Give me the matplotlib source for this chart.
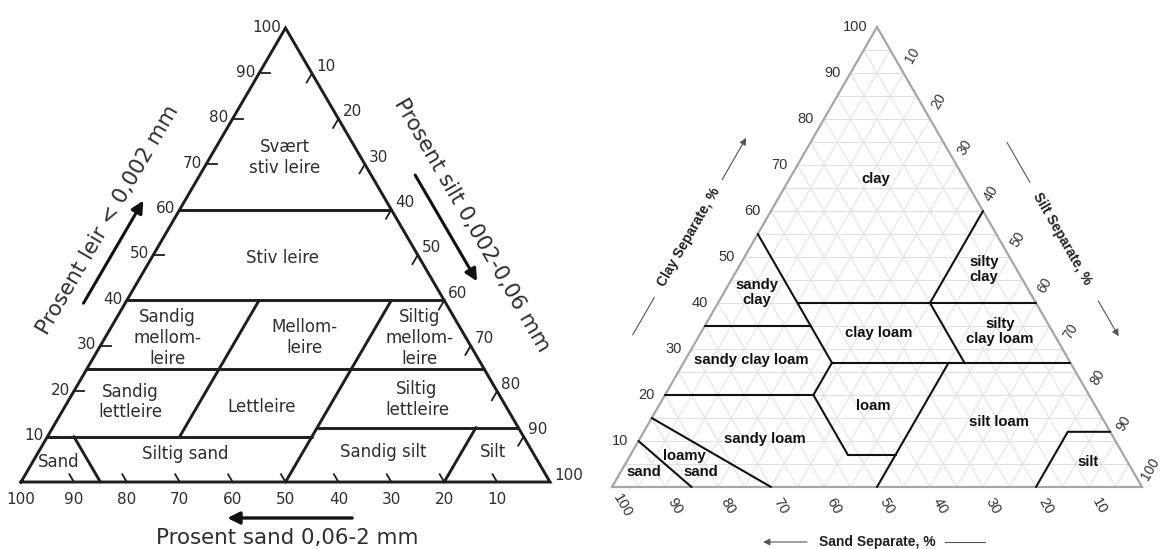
import matplotlib
matplotlib.use('Agg')
import matplotlib.pyplot as plt
from matplotlib.transforms import ScaledTranslation
import numpy as np

DPI = 100
TICKS = list(range(10, 101, 10))

# ---- left: Norwegian texture classes, boundary segments as (sand %, clay %)
no_lines = [
    [(40, 60), (0, 60)],
    [(60, 40), (0, 40)],
    [(75, 25), (0, 25)],
    [(90, 10), (40, 10)],
    [(38, 12), (0, 12)],
    [(65, 10), (35, 40)],   # silt 25
    [(50, 0), (10, 40)],    # silt 50
    [(85, 0), (85, 10)],    # sand 85
    [(20, 0), (8, 12)],     # silt 80
]
no_names = ["Svært\nstiv leire", "Stiv leire", "Sandig\nmellom-\nleire",
            "Mellom-\nleire", "Siltig\nmellom-\nleire", "Sandig\nlettleire",
            "Lettleire", "Siltig\nlettleire", "Sand", "Siltig sand",
            "Sandig silt", "Silt"]
no_name_sand = [14.4, 26.0, 56.5, 30.5, 8.9, 70.6, 46.2, 16.1, 90.6, 65.8, 28.2, 7.6]
no_name_clay = [71.4, 49.3, 31.7, 31.9, 31.7, 17.6, 16.5, 18.1, 4.4, 6.2, 6.6, 6.5]

# ---- right: USDA texture classes
usda_lines = [
    [(45, 55), (45, 27)],
    [(45, 40), (0, 40)],
    [(20, 40), (0, 60)],
    [(65, 35), (45, 35)],
    [(45, 27), (0, 27)],
    [(20, 40), (20, 27)],
    [(80, 20), (52, 20)],
    [(52, 20), (45, 27)],
    [(52, 20), (52, 7)],
    [(52, 7), (43, 7)],
    [(50, 0), (23, 27)],
    [(20, 0), (8, 12), (0, 12)],
    [(85, 15), (70, 0)],
    [(90, 10), (85, 0)],
]
usda_names = ["clay", "silty\nclay", "sandy\nclay", "clay loam", "silty\nclay loam",
              "sandy clay loam", "loam", "silt loam", "sandy loam", "loamy",
              "sand", "sand", "silt"]
usda_name_sand = [16.8, 6.2, 51.5, 32.9, 9.9, 59.9, 42.0, 19.9, 65.9, 83.0, 81.6, 92.4, 7.5]
usda_name_clay = [67.0, 47.2, 42.3, 33.5, 33.9, 27.6, 17.5, 14.2, 10.4, 6.7, 3.2, 3.2, 5.5]


def tern(sand, clay):
    sand = np.asarray(sand, float)
    clay = np.asarray(clay, float)
    return 100 - sand - clay / 2.0, clay


def side_point(side, v):
    if side == 'left':
        return tern(100 - v, v)
    if side == 'right':
        return tern(0, 100 - v)
    return tern(v, 0)


SIDES = {'left': ((0, 0), (50, 100)), 'right': ((50, 100), (100, 0)),
         'bottom': ((100, 0), (0, 0))}


def shifted(ax, side, dist):
    a, b = ax.transData.transform(SIDES[side])
    d = (b - a) / np.linalg.norm(b - a)
    n = np.array([-d[1], d[0]]) * dist / DPI
    ang = np.degrees(np.arctan2(d[1], d[0]))
    return ax.transData + ScaledTranslation(n[0], n[1], fig.dpi_scale_trans), ang


def draw_segments(ax, segs, **kw):
    for seg in segs:
        s, c = zip(*seg)
        x, y = tern(s, c)
        ax.plot(x, y, clip_on=False, solid_capstyle='round', **kw)


fig = plt.figure(figsize=(11.61, 5.49), dpi=DPI)
fig.patch.set_facecolor('white')
axL = fig.add_axes([21 / 1161, 67 / 549, 529 / 1161, 454 / 549])
axR = fig.add_axes([612 / 1161, 62 / 549, 530 / 1161, 460 / 549])
for ax in (axL, axR):
    ax.set_xlim(0, 100)
    ax.set_ylim(0, 100)
    ax.axis('off')

# ================= left panel =================
LC = '#1e1e1e'
TC = '#2e2e2e'
FL = 'DejaVu Sans'
ox, oy = tern([100, 0, 0, 100], [0, 0, 100, 0])
axL.plot(ox, oy, color=LC, lw=2.1, clip_on=False, solid_joinstyle='miter')
draw_segments(axL, no_lines, color=LC, lw=2.1)

for v in TICKS[:-1]:
    x, y = tern([100 - v, 98 - v], [v, v])           # clay ticks
    axL.plot(x, y, color=LC, lw=1.3, clip_on=False)
    x, y = tern([0, 2], [100 - v, 98 - v])           # silt ticks
    axL.plot(x, y, color=LC, lw=1.3, clip_on=False)
    x, y = tern([v, v], [0, 1.7])                    # sand ticks
    axL.plot(x, y, color=LC, lw=1.3, clip_on=False)

for v in TICKS:
    axL.annotate(str(v), side_point('left', v), xytext=(-4, 1), textcoords='offset pixels',
                 ha='right', va='center', fontsize=11, color=TC, family=FL)
    axL.annotate(str(v), side_point('right', v), xytext=(4, 7), textcoords='offset pixels',
                 ha='left', va='center', fontsize=11, color=TC, family=FL)
    axL.annotate(str(v), side_point('bottom', v), xytext=(0, -18), textcoords='offset pixels',
                 ha='center', va='center', fontsize=11, color=TC, family=FL)

for name, s, c in zip(no_names, no_name_sand, no_name_clay):
    x, y = tern(s, c)
    axL.text(x, y, name, ha='center', va='center', fontsize=12, color=TC,
             family=FL, linespacing=1.2)

# axis titles + arrows
tr, ang = shifted(axL, 'left', 57)
axL.text(*side_point('left', 51.4), "Prosent leir < 0,002 mm", transform=tr, rotation=ang,
         ha='center', va='center', fontsize=15.4, color=TC, family=FL, rotation_mode='anchor')
tr, ang = shifted(axL, 'left', 36)
axL.annotate('', xy=side_point('left', 58.0), xytext=side_point('left', 35.4),
             xycoords=tr, textcoords=tr, annotation_clip=False,
             arrowprops=dict(arrowstyle='-|>', color='#111111', lw=2.2, mutation_scale=18,
                             shrinkA=0, shrinkB=0))
tr, ang = shifted(axL, 'right', 61.6)
axL.text(*side_point('right', 50.2), "Prosent silt 0,002-0,06 mm", transform=tr, rotation=ang,
         ha='center', va='center', fontsize=15.4, color=TC, family=FL, rotation_mode='anchor')
tr, ang = shifted(axL, 'right', 38)
axL.annotate('', xy=side_point('right', 60.0), xytext=side_point('right', 36.6),
             xycoords=tr, textcoords=tr, annotation_clip=False,
             arrowprops=dict(arrowstyle='-|>', color='#111111', lw=2.2, mutation_scale=18,
                             shrinkA=0, shrinkB=0))
tr, ang = shifted(axL, 'bottom', 56)
axL.text(*side_point('bottom', 49.7), "Prosent sand 0,06-2 mm", transform=tr,
         ha='center', va='center', fontsize=15.4, color=TC, family=FL)
tr, ang = shifted(axL, 'bottom', 36)
axL.annotate('', xy=side_point('bottom', 61.0), xytext=side_point('bottom', 37.4),
             xycoords=tr, textcoords=tr, annotation_clip=False,
             arrowprops=dict(arrowstyle='-|>', color='#111111', lw=2.4, mutation_scale=18,
                             shrinkA=0, shrinkB=0))

# ================= right panel =================
FR = 'Liberation Sans'
grid = np.arange(5, 100, 5)
for v in grid:
    for seg in ([(100 - v, v), (0, v)], [(v, 0), (v, 100 - v)], [(100 - v, 0), (0, 100 - v)]):
        s, c = zip(*seg)
        x, y = tern(s, c)
        axR.plot(x, y, color='#e0e0e0', lw=0.7, zorder=1)
axR.plot(ox, oy, color='#a6a6a6', lw=1.6, clip_on=False, zorder=2, solid_joinstyle='miter')
draw_segments(axR, usda_lines, color='#111111', lw=1.5, zorder=3)

for v in TICKS:
    axR.annotate(str(v), side_point('left', v), xytext=(-10, 0), textcoords='offset pixels',
                 ha='right', va='center', fontsize=10.5, color='#333333', family=FR)
    axR.annotate(str(v), side_point('right', v), xytext=(8.5, 18), textcoords='offset pixels',
                 ha='center', va='center', fontsize=10, color='#333333', family=FR,
                 rotation=60)
    axR.annotate(str(v), side_point('bottom', v), xytext=(10, -19), textcoords='offset pixels',
                 ha='center', va='center', fontsize=10.5, color='#333333', family=FR,
                 rotation=-60)

for name, s, c in zip(usda_names, usda_name_sand, usda_name_clay):
    x, y = tern(s, c)
    axR.text(x, y, name, ha='center', va='center', fontsize=10.7, color='#111111',
             family=FR, fontweight='bold', linespacing=1.1, zorder=4)

AC = '#555555'
arrow_kw = dict(arrowstyle='-|>', color=AC, lw=0.8, mutation_scale=10, shrinkA=0, shrinkB=0)

tr, ang = shifted(axR, 'left', 58)
axR.text(*side_point('left', 48), "Clay Separate, %", transform=tr, rotation=ang,
         ha='center', va='center', fontsize=10, color='#222222', family=FR,
         fontweight='bold', rotation_mode='anchor')
x, y = zip(side_point('left', 26.8), side_point('left', 34.9))
axR.plot(x, y, color=AC, lw=0.8, transform=tr, clip_on=False)
axR.annotate('', xy=side_point('left', 69.6), xytext=side_point('left', 60.5),
             xycoords=tr, textcoords=tr, annotation_clip=False, arrowprops=arrow_kw)

tr, ang = shifted(axR, 'right', 55)
axR.text(*side_point('right', 52), "Silt Separate, %", transform=tr, rotation=ang,
         ha='center', va='center', fontsize=10, color='#222222', family=FR,
         fontweight='bold', rotation_mode='anchor')
x, y = zip(side_point('right', 31.1), side_point('right', 39.7))
axR.plot(x, y, color=AC, lw=0.8, transform=tr, clip_on=False)
axR.annotate('', xy=side_point('right', 73.2), xytext=side_point('right', 65.5),
             xycoords=tr, textcoords=tr, annotation_clip=False, arrowprops=arrow_kw)

tr, ang = shifted(axR, 'bottom', 55)
axR.text(*side_point('bottom', 50), "Sand Separate, %", transform=tr,
         ha='center', va='center', fontsize=10, color='#222222', family=FR,
         fontweight='bold')
x, y = zip(side_point('bottom', 37.2), side_point('bottom', 29.6))
axR.plot(x, y, color=AC, lw=0.8, transform=tr, clip_on=False)
axR.annotate('', xy=side_point('bottom', 71.5), xytext=side_point('bottom', 63.2),
             xycoords=tr, textcoords=tr, annotation_clip=False, arrowprops=arrow_kw)

fig.savefig('out.png', dpi=DPI, facecolor='white')
